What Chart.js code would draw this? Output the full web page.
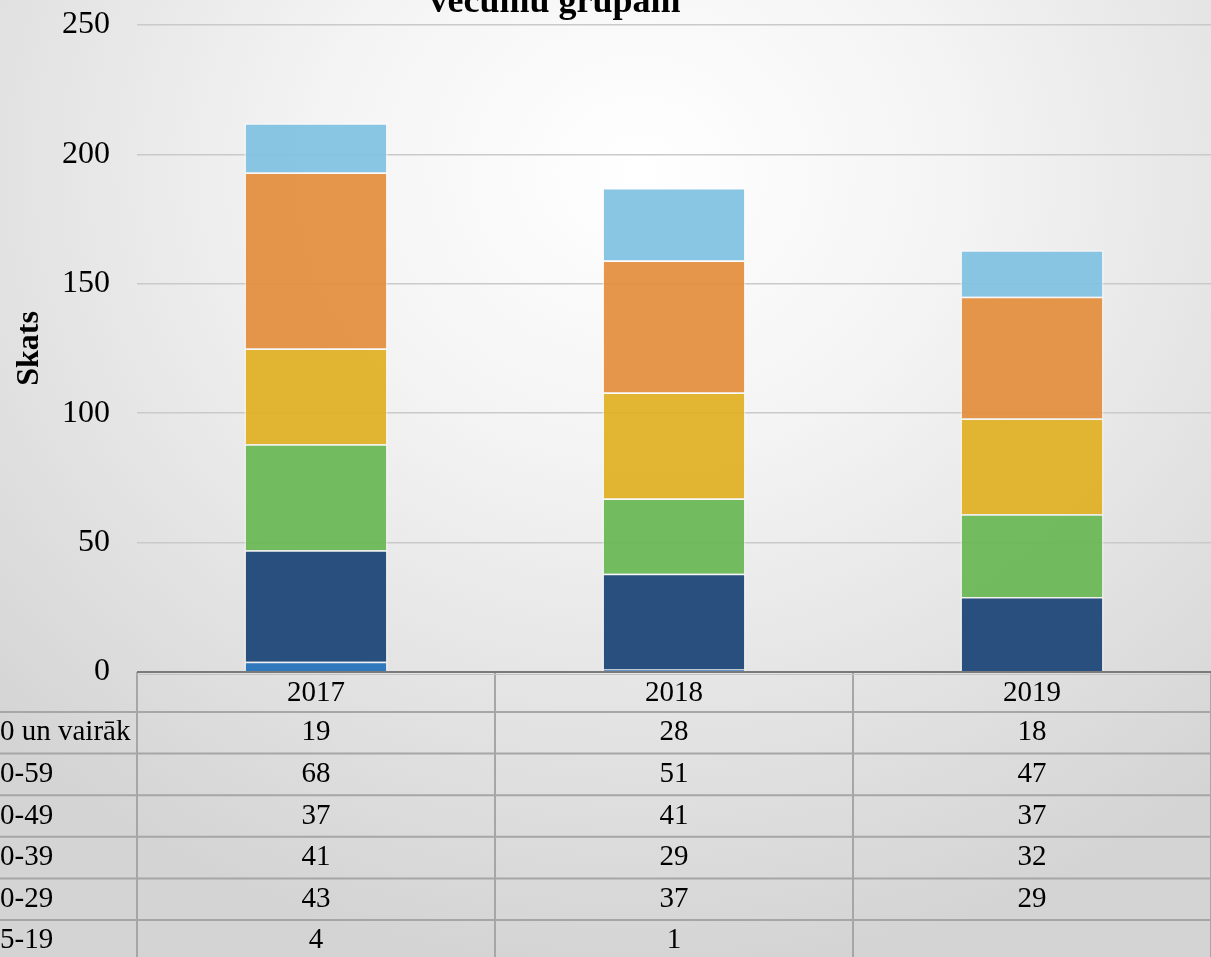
<!DOCTYPE html>
<html>
<head>
<meta charset="utf-8">
<script src="https://cdn.jsdelivr.net/npm/chart.js@4.4.1/dist/chart.umd.min.js"></script>
<style>
  html, body { margin: 0; padding: 0; }
  body {
    width: 1211px; height: 957px; overflow: hidden;
    background: radial-gradient(ellipse 900px 800px at 640px 170px, #ffffff 0%, #f4f4f4 35%, #d4d4d4 100%);
  }
  #wrap { width: 1211px; height: 957px; position: relative; }
</style>
</head>
<body>
<div id="wrap"><canvas id="ageChart"></canvas></div>
<script>
const years = ['2017', '2018', '2019'];
const ageGroups = ['15-19', '20-29', '30-39', '40-49', '50-59', '60 un vairāk'];
const age15_19 = [4, 1, null];
const age20_29 = [43, 37, 29];
const age30_39 = [41, 29, 32];
const age40_49 = [37, 41, 37];
const age50_59 = [68, 51, 47];
const age60plus = [19, 28, 18];
const yTicks = [0, 50, 100, 150, 200, 250];

const seriesValues = [age15_19, age20_29, age30_39, age40_49, age50_59, age60plus];
const colors = [
    'rgba(38, 115, 186, 0.95)',
    'rgba(30, 71, 120, 0.95)',
    'rgba(105, 183, 84, 0.93)',
    'rgba(224, 176, 36, 0.93)',
    'rgba(227, 142, 60, 0.93)',
    'rgba(128, 194, 226, 0.93)'
];

const serif = '"Liberation Serif", "Times New Roman", serif';

let datasets = [];
for (let i = 0; i < ageGroups.length; i++) {
    datasets.push({
        label: ageGroups[i],
        data: seriesValues[i],
        backgroundColor: colors[i],
        borderColor: 'rgba(255, 255, 255, 0.55)',
        borderWidth: 1.5,
        categoryPercentage: 1.0,
        barPercentage: 0.4
    });
}

// data table under the plot + cut title line
const tablePlugin = {
    id: 'dataTable',
    afterDraw(chart) {
        const ctx = chart.ctx;
        const area = chart.chartArea;
        const xs = chart.scales.x;
        const colW = (area.right - area.left) / years.length;
        const headerH = 40;
        const rowH = 41.6;
        const top = area.bottom;

        ctx.save();
        ctx.strokeStyle = '#a6a6a6';
        ctx.lineWidth = 2;

        // horizontal lines
        for (let r = 0; r <= ageGroups.length; r++) {
            const y = top + headerH + r * rowH;
            ctx.beginPath();
            ctx.moveTo(0, y);
            ctx.lineTo(area.right, y);
            ctx.stroke();
        }
        // vertical lines
        for (let c = 0; c <= years.length; c++) {
            const x = area.left + c * colW;
            ctx.beginPath();
            ctx.moveTo(x, top);
            ctx.lineTo(x, chart.height);
            ctx.stroke();
        }
        // axis line
        ctx.strokeStyle = '#c4c4c4';
        ctx.lineWidth = 1;
        ctx.beginPath();
        ctx.moveTo(area.left, top + 2.5);
        ctx.lineTo(area.right, top + 2.5);
        ctx.stroke();
        ctx.strokeStyle = '#7a7a7a';
        ctx.lineWidth = 2;
        ctx.beginPath();
        ctx.moveTo(area.left, top);
        ctx.lineTo(area.right, top);
        ctx.stroke();

        ctx.fillStyle = '#000';
        ctx.font = '29px ' + serif;
        ctx.textBaseline = 'middle';
        ctx.textAlign = 'center';
        years.forEach((yr, c) => {
            ctx.fillText(yr, xs.getPixelForValue(c), top + headerH / 2 + 1);
        });

        // rows: top row is the last series
        for (let r = 0; r < ageGroups.length; r++) {
            const s = ageGroups.length - 1 - r;
            const yMid = top + headerH + r * rowH + rowH / 2;
            ctx.textAlign = 'left';
            ctx.fillText(ageGroups[s], -14.5, yMid);
            ctx.textAlign = 'center';
            seriesValues[s].forEach((v, c) => {
                if (v !== null) ctx.fillText(String(v), xs.getPixelForValue(c), yMid);
            });
        }

        // title (upper line is outside the picture)
        ctx.font = 'bold 36px ' + serif;
        ctx.textAlign = 'center';
        ctx.textBaseline = 'alphabetic';
        ctx.fillText('vecumu grupām', 555, 12);
        ctx.restore();
    }
};

const ctx = document.getElementById('ageChart');
new Chart(ctx, {
    type: 'bar',
    data: { labels: years, datasets: datasets },
    options: {
        responsive: true,
        maintainAspectRatio: false,
        animation: false,
        layout: { padding: { top: 25, bottom: 285, left: 0, right: 0 } },
        plugins: {
            legend: { display: false },
            tooltip: { enabled: false }
        },
        scales: {
            x: {
                display: false,
                stacked: true
            },
            y: {
                stacked: true,
                min: 0,
                max: 250,
                afterBuildTicks(scale) {
                    scale.ticks = yTicks.map(v => ({ value: v }));
                },
                afterFit(scale) {
                    scale.width = 137;
                    scale.paddingTop = 0;
                    scale.paddingBottom = 0;
                },
                grid: { color: '#cacaca', lineWidth: 1.5, drawTicks: false },
                border: { display: false },
                ticks: {
                    padding: 27,
                    color: '#000',
                    font: { family: serif, size: 32 }
                },
                title: {
                    display: true,
                    text: 'Skats',
                    color: '#000',
                    padding: { top: 11, bottom: 0 },
                    font: { family: serif, size: 32, weight: 'bold' }
                }
            }
        }
    },
    plugins: [tablePlugin]
});
</script>
</body>
</html>
